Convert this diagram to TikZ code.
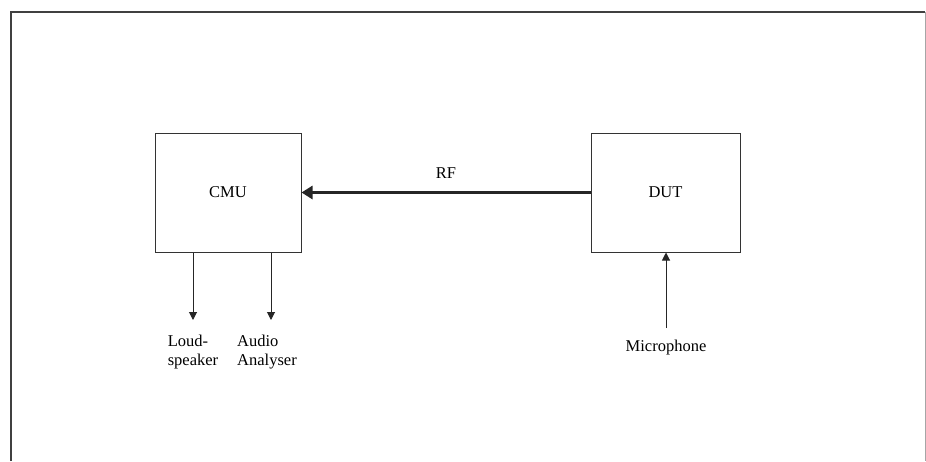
\documentclass[tikz,border=0pt]{standalone}
\usepackage{fontspec}
\setmainfont{Liberation Serif}
\usetikzlibrary{arrows.meta,positioning}

\begin{document}
\begin{tikzpicture}[x=1pt,y=-1pt,font=\fontsize{16.5}{19}\selectfont]

    \useasboundingbox (0,0) rectangle (926,461);
    % frame, open at the bottom %
    \draw[black!75,line width=1.3pt] (11,461) -- (11,12) -- (925,12);
    \draw[black!35,line width=1pt] (925,12) -- (925,461);

    \begin{scope}[every node/.style={rectangle,draw=black!80,line width=1pt}]
        \node[minimum width=146pt,minimum height=119pt] (cmu) at (228,192.5) {CMU}; % tester
        \node[minimum width=149pt,minimum height=119pt,text depth=-4pt] (dut) at (665.5,192.5) {DUT}; % device under test
    \end{scope}

    \coordinate (spkin) at (193,320);
    \coordinate (anain) at (271,320);
    \coordinate (micout) at (666,328);

    \begin{scope}[every node/.style={align=left,inner sep=0pt}]
        \node[below=15pt of spkin] (spk) {Loud-\\speaker};
        \node[below=15pt of anain,xshift=-4pt] (ana) {Audio\\Analyser};
        \node[below=12pt of micout] (mic) {Microphone};
    \end{scope}

    \begin{scope}[every edge/.style={draw=black!85,line width=1pt}]
        % RF link %
        \path [-{Triangle[length=11pt,width=13pt]}] (dut) edge [line width=2.8pt] node[above=13pt,inner sep=0pt] (rf) {RF} (cmu);
        % audio out %
        \path [-{Triangle[length=8pt,width=8pt]}] (cmu.south -| spkin) edge (spkin);
        \path [-{Triangle[length=8pt,width=8pt]}] (cmu.south -| anain) edge (anain);
        % audio in %
        \path [-{Triangle[length=8pt,width=8pt]}] (micout) edge (dut.south -| micout);
    \end{scope}

\end{tikzpicture}
\end{document}
